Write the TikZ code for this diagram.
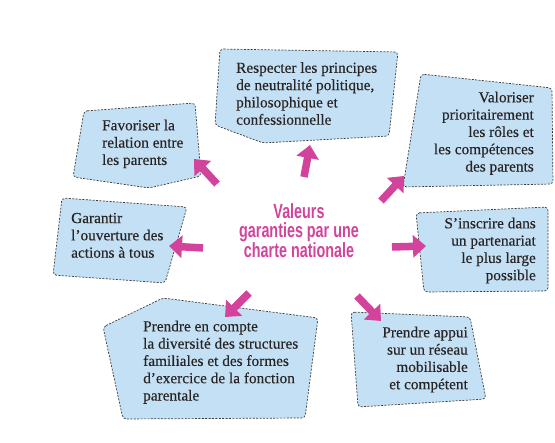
\documentclass[tikz,border=0pt]{standalone}
\usepackage{fontspec}
\setmainfont{Liberation Serif}[FakeBold=0.3]
\newfontfamily\condfont[FakeStretch=0.7]{Liberation Sans}
\usetikzlibrary{arrows.meta}
\definecolor{boxblue}{RGB}{196,224,244}
\definecolor{pinkc}{RGB}{210,68,155}
\definecolor{edgec}{RGB}{60,60,60}
\definecolor{txt}{RGB}{40,36,36}
\begin{document}
\begin{tikzpicture}[x=1pt,y=-1pt,
  panel/.style={fill=boxblue,draw=edgec,line width=0.7pt,dash pattern=on 2pt off 1.4pt,rounded corners=3.5pt},
  boxtext/.style={inner sep=0pt,font=\fontsize{15.3}{17.3}\selectfont,text=txt},
  bigarrow/.style={draw=pinkc,line width=7.5pt,-{Triangle[width=22pt,length=13pt]}},
  centertext/.style={inner sep=0pt,font=\condfont\bfseries\fontsize{20.5}{19}\selectfont,text=pinkc,align=center}
]
\useasboundingbox (0,0) rectangle (555,443);

% panels
\draw[panel] (220,49) -- (398,52) -- (389,136) -- (263,143) -- (215,125) -- cycle;
\draw[panel] (421,74) -- (552,88) -- (553,184) -- (403,187) -- cycle;
\draw[panel] (84,111) -- (195,103) -- (201,176) -- (149,188) -- (73,177) -- cycle;
\draw[panel] (62,198) -- (187,207) -- (165,283) -- (53,275) -- cycle;
\draw[panel] (416,213) -- (548,207) -- (548,291) -- (424,292) -- cycle;
\draw[panel] (103,327) -- (163,298) -- (318,318) -- (305,418) -- (123,419) -- cycle;
\draw[panel] (351,312) -- (470,317) -- (486,399) -- (358,407) -- cycle;

% texts
\node[boxtext,anchor=north west,align=left] (respecter) at (236,62)
  {Respecter les principes\\de neutralité politique,\\philosophique et\\confessionnelle};
\node[boxtext,anchor=north east,align=right] (valoriser) at (534,91.5)
  {Valoriser\\prioritairement\\les rôles et\\les compétences\\des parents};
\node[boxtext,anchor=north west,align=left] (favoriser) at (102,119.5)
  {Favoriser la\\relation entre\\les parents};
\node[boxtext,anchor=north west,align=left] (garantir) at (71,212.7)
  {Garantir\\l’ouverture des\\actions à tous};
\node[boxtext,anchor=north east,align=right] (inscrire) at (536,217.5)
  {S’inscrire dans\\un partenariat\\le plus large\\possible};
\node[boxtext,anchor=north west,align=left] (compte) at (143,320.5)
  {Prendre en compte\\la diversité des structures\\familiales et des formes\\d’exercice de la fonction\\parentale};
\node[boxtext,anchor=north east,align=right] (appui) at (468,326.5)
  {Prendre appui\\sur un réseau\\mobilisable\\et compétent};

\node[centertext,anchor=north] (centre) at (299,203)
  {Valeurs\\garanties par une\\charte nationale};

% arrows
\coordinate (a1s) at (304,177); \coordinate (a1e) at (310,145);
\coordinate (a2s) at (217,184); \coordinate (a2e) at (194,159);
\coordinate (a3s) at (381,201); \coordinate (a3e) at (404,176);
\coordinate (a4s) at (203,248); \coordinate (a4e) at (169,246);
\coordinate (a5s) at (392,247); \coordinate (a5e) at (426,246);
\coordinate (a6s) at (249,293); \coordinate (a6e) at (225,317);
\coordinate (a7s) at (357,296); \coordinate (a7e) at (381,321);
\foreach \i in {1,...,7} {\draw[bigarrow] (a\i s) -- (a\i e);}
\end{tikzpicture}
\end{document}
